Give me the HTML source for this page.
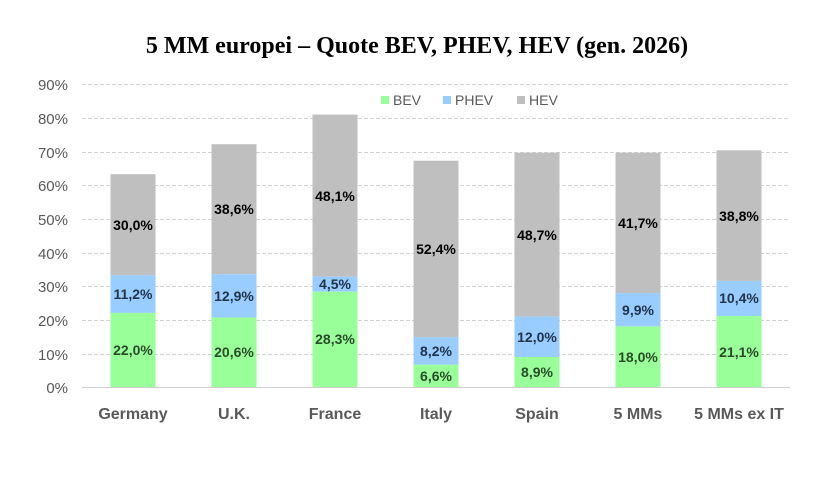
<!DOCTYPE html>
<html><head><meta charset="utf-8"><style>
html,body{margin:0;padding:0;background:#fff;}
svg{display:block;}
.t{font-family:"Liberation Serif",serif;font-weight:bold;font-size:24px;fill:#000;}
.y{font-family:"Liberation Sans",sans-serif;font-size:15px;fill:#595959;}
.c{font-family:"Liberation Sans",sans-serif;font-weight:bold;font-size:16px;fill:#595959;}
.l{font-family:"Liberation Sans",sans-serif;font-size:14px;fill:#595959;}
.v{font-family:"Liberation Sans",sans-serif;font-weight:bold;font-size:14px;text-anchor:middle;}
.b{fill:#2b4a2b}.p{fill:#213449}.h{fill:#000}
</style></head><body>
<svg width="819" height="483" viewBox="0 0 819 483" xmlns="http://www.w3.org/2000/svg">
<text class="t" x="417" y="53" text-anchor="middle">5 MM europei – Quote BEV, PHEV, HEV (gen. 2026)</text>
<g stroke="#d0d0d0" stroke-width="1" stroke-dasharray="4,2">
<line x1="82" x2="790" y1="84.5" y2="84.5"/><line x1="82" x2="790" y1="118.5" y2="118.5"/>
<line x1="82" x2="790" y1="152.5" y2="152.5"/><line x1="82" x2="790" y1="185.5" y2="185.5"/>
<line x1="82" x2="790" y1="219.5" y2="219.5"/><line x1="82" x2="790" y1="253.5" y2="253.5"/>
<line x1="82" x2="790" y1="286.5" y2="286.5"/><line x1="82" x2="790" y1="320.5" y2="320.5"/>
<line x1="82" x2="790" y1="354.5" y2="354.5"/>
</g>
<g class="y" text-anchor="end">
<text x="68" y="90">90%</text><text x="68" y="124">80%</text><text x="68" y="158">70%</text>
<text x="68" y="191">60%</text><text x="68" y="225">50%</text><text x="68" y="259">40%</text>
<text x="68" y="292">30%</text><text x="68" y="326">20%</text><text x="68" y="360">10%</text>
<text x="68" y="393">0%</text>
</g>
<g>
<rect x="110.5" y="174.2" width="45" height="101" fill="#bfbfbf"/><rect x="110.5" y="275.2" width="45" height="37.7" fill="#99ccff"/><rect x="110.5" y="312.9" width="45" height="74.1" fill="#99ff99"/>
<rect x="211.5" y="144.2" width="45" height="130" fill="#bfbfbf"/><rect x="211.5" y="274.2" width="45" height="43.4" fill="#99ccff"/><rect x="211.5" y="317.6" width="45" height="69.4" fill="#99ff99"/>
<rect x="312.5" y="114.6" width="45" height="162" fill="#bfbfbf"/><rect x="312.5" y="276.6" width="45" height="15.1" fill="#99ccff"/><rect x="312.5" y="291.7" width="45" height="95.3" fill="#99ff99"/>
<rect x="413.5" y="160.7" width="45" height="176.5" fill="#bfbfbf"/><rect x="413.5" y="337.2" width="45" height="27.6" fill="#99ccff"/><rect x="413.5" y="364.8" width="45" height="22.2" fill="#99ff99"/>
<rect x="514.5" y="152.7" width="45" height="163.9" fill="#bfbfbf"/><rect x="514.5" y="316.6" width="45" height="40.4" fill="#99ccff"/><rect x="514.5" y="357" width="45" height="30" fill="#99ff99"/>
<rect x="615.5" y="152.7" width="45" height="140.4" fill="#bfbfbf"/><rect x="615.5" y="293.1" width="45" height="33.3" fill="#99ccff"/><rect x="615.5" y="326.4" width="45" height="60.6" fill="#99ff99"/>
<rect x="716.5" y="150.3" width="45" height="130.6" fill="#bfbfbf"/><rect x="716.5" y="280.9" width="45" height="35.1" fill="#99ccff"/><rect x="716.5" y="316" width="45" height="71" fill="#99ff99"/>
</g>
<line x1="82" x2="790" y1="387.5" y2="387.5" stroke="#d0d0d0" stroke-width="1"/>
<g class="v">
<text class="h" x="133" y="230">30,0%</text><text class="p" x="133" y="299">11,2%</text><text class="b" x="133" y="355">22,0%</text>
<text class="h" x="234" y="214">38,6%</text><text class="p" x="234" y="301">12,9%</text><text class="b" x="234" y="357">20,6%</text>
<text class="h" x="335" y="201">48,1%</text><text class="p" x="335" y="289">4,5%</text><text class="b" x="335" y="344">28,3%</text>
<text class="h" x="436" y="254">52,4%</text><text class="p" x="436" y="356">8,2%</text><text class="b" x="436" y="381">6,6%</text>
<text class="h" x="537" y="240">48,7%</text><text class="p" x="537" y="342">12,0%</text><text class="b" x="537" y="377">8,9%</text>
<text class="h" x="638" y="228">41,7%</text><text class="p" x="638" y="315">9,9%</text><text class="b" x="638" y="362">18,0%</text>
<text class="h" x="739" y="221">38,8%</text><text class="p" x="739" y="303">10,4%</text><text class="b" x="739" y="357">21,1%</text>
</g>
<g class="c" text-anchor="middle">
<text x="133" y="419">Germany</text><text x="234" y="419">U.K.</text><text x="335" y="419">France</text>
<text x="436" y="419">Italy</text><text x="537" y="419">Spain</text><text x="638" y="419">5 MMs</text>
<text x="739" y="419">5 MMs ex IT</text>
</g>
<rect x="381" y="96" width="8" height="8" fill="#99ff99"/><text class="l" x="393" y="105">BEV</text>
<rect x="443" y="96" width="8" height="8" fill="#99ccff"/><text class="l" x="455" y="105">PHEV</text>
<rect x="517" y="96" width="8" height="8" fill="#bfbfbf"/><text class="l" x="529" y="105">HEV</text>
</svg>
</body></html>
